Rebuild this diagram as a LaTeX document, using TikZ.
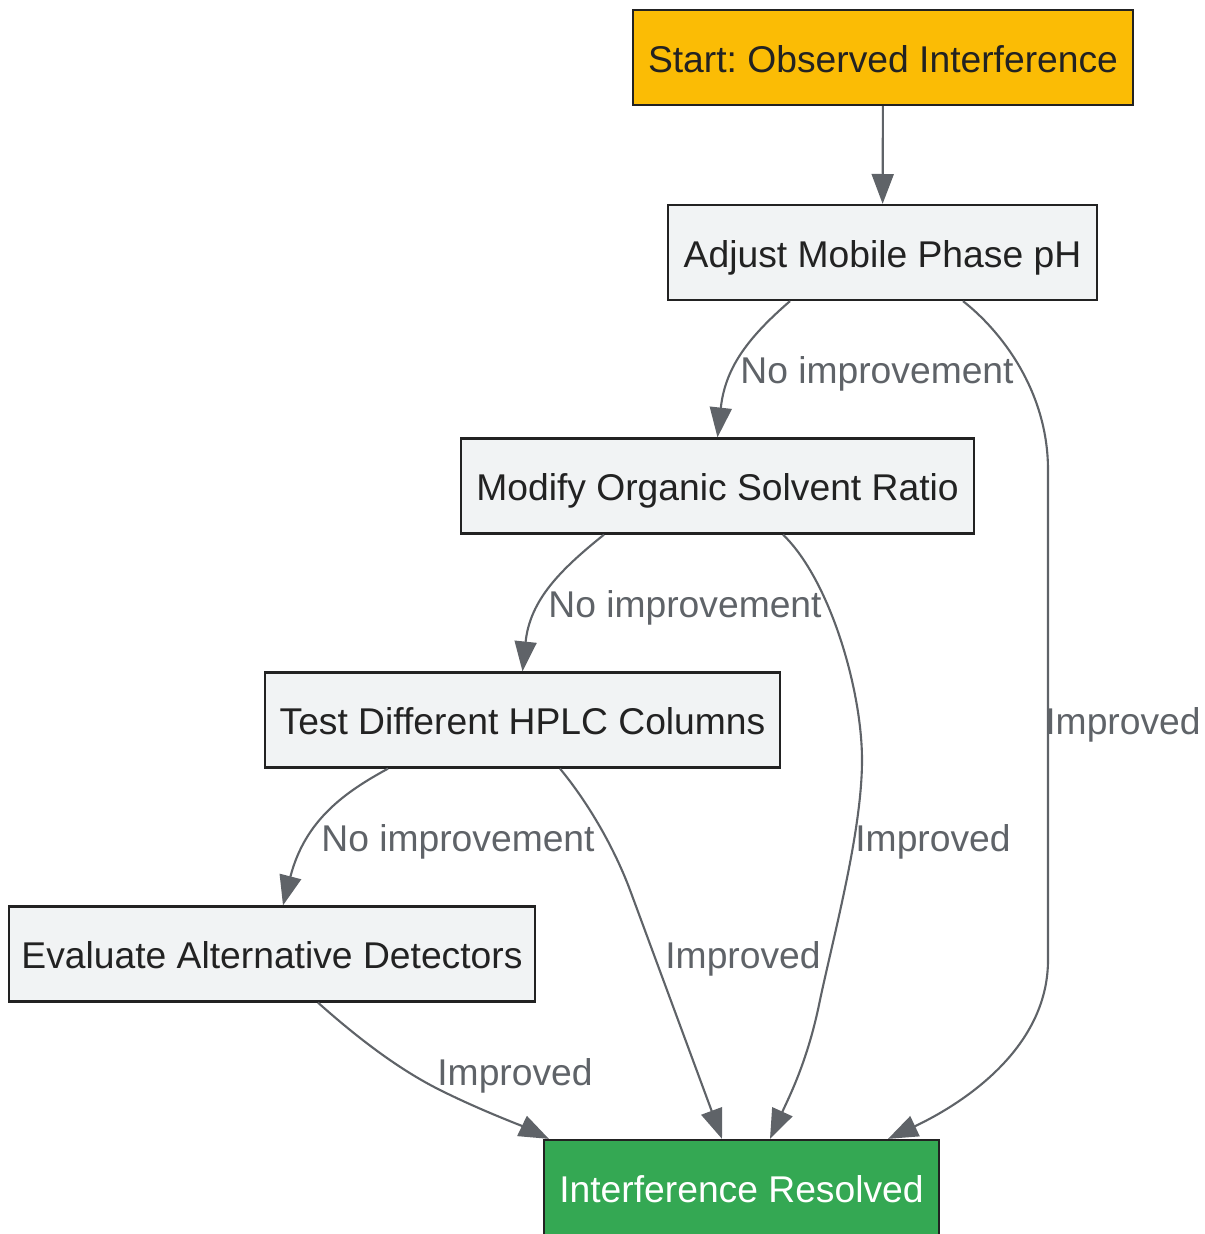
\documentclass[tikz,border=0pt]{standalone}
\usepackage{fontspec}
\setmainfont{Liberation Sans}
\frenchspacing
\usetikzlibrary{arrows.meta,calc}
\definecolor{startfill}{HTML}{FBBC05}
\definecolor{stepfill}{HTML}{F1F3F4}
\definecolor{donefill}{HTML}{34A853}
\definecolor{edgegray}{HTML}{5F6368}
\definecolor{boxline}{HTML}{222222}
\tikzset{
	box/.style={rectangle, draw=boxline, line width=1.3pt, inner sep=0pt, minimum height=1.9cm, font=\fontsize{21.2}{25}\selectfont, text=boxline, text height=16.6pt, text depth=0pt},
	lbl/.style={font=\fontsize{21.2}{25}\selectfont, text=edgegray, inner sep=0pt, yshift=-0.06cm},
}
\begin{document}
\begin{tikzpicture}[x=0.02cm, y=-0.02cm, line width=1.2pt, draw=edgegray, >={Triangle[length=17pt, width=12.5pt]}]
	\useasboundingbox (0,0) rectangle (1204,1234);
	\node (S) at ( 883.0,   57.5)	[box, fill = startfill, minimum width=10cm]	{Start: Observed Interference};
	\node (pH) at ( 882.5,  252.5)	[box, fill = stepfill, minimum width=8.58cm]	{Adjust Mobile Phase pH};
	\node (OS) at ( 717.5,  486.0)	[box, fill = stepfill, minimum width=10.26cm]	{Modify Organic Solvent Ratio};
	\node (HC) at ( 522.5,  720.0)	[box, fill = stepfill, minimum width=10.3cm]	{Test Different HPLC Columns};
	\node (AD) at ( 272.0,  954.0)	[box, fill = stepfill, minimum width=10.52cm]	{Evaluate Alternative Detectors};
	\node (R) at ( 741.5, 1187.5)	[box, fill = donefill, minimum width=7.9cm, text = white]	{Interference Resolved};
	\draw[->] (S) -- (pH);
	\draw[->] ($(pH.south)+(-92.5,0)$) .. controls (745,340) and (725,370) .. (OS.north);
	\draw[->] ($(pH.south)+(80.5,0)$) .. controls (1000,330) and (1048,390) .. (1048,470) -- (1048,960) .. controls (1048,1050) and (960,1105) .. ($(R.north)+(146.5,0)$);
	\draw[->] ($(OS.south)+(-113.5,0)$) .. controls (560,570) and (530,600) .. (HC.north);
	\draw[->] ($(OS.south)+(65.5,0)$) .. controls (830,580) and (862,690) .. (862,760) .. controls (862,830) and (835,930) .. (820,1000) .. controls (808,1060) and (790,1095) .. ($(R.north)+(28.5,0)$);
	\draw[->] ($(HC.south)+(-134.5,0)$) .. controls (345,792) and (305,820) .. ($(AD.north)+(11,0)$);
	\draw[->] ($(HC.south)+(37.5,0)$) .. controls (590,805) and (615,850) .. (630,890) -- ($(R.north)+(-19.5,0)$);
	\draw[->] ($(AD.south)+(46,0)$) .. controls (360,1040) and (400,1070) .. (440,1090) .. controls (480,1110) and (520,1125) .. ($(R.north west)+(6,0)$);
	\node (L1) at ( 877,  371)	[lbl]	{No improvement};
	\node (L2) at ( 1123,  722)	[lbl]	{Improved};
	\node (L3) at ( 685,  605)	[lbl]	{No improvement};
	\node (L4) at ( 933,  839)	[lbl]	{Improved};
	\node (L5) at ( 458,  839)	[lbl]	{No improvement};
	\node (L6) at ( 743,  956)	[lbl]	{Improved};
	\node (L7) at ( 515, 1073)	[lbl]	{Improved};
\end{tikzpicture}
\end{document}
